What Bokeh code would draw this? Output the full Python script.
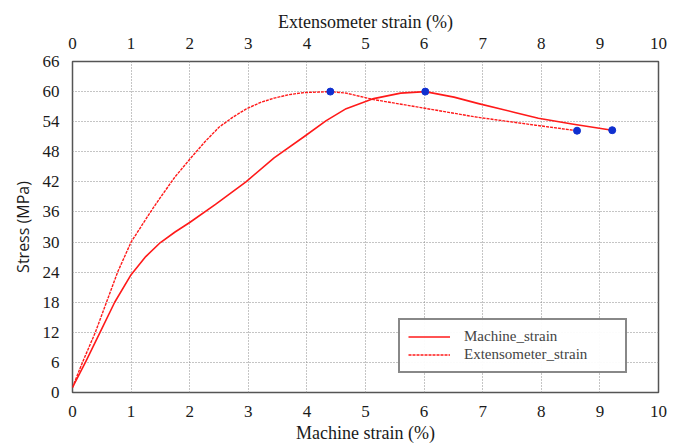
from bokeh.plotting import figure
from bokeh.models import Range1d, LinearAxis, SingleIntervalTicker, Legend, LegendItem
from bokeh.embed import file_html
from bokeh.resources import INLINE

# ---- data ----
machine_strain = [0, 0.11, 0.22, 0.47, 0.72, 1.0, 1.25, 1.5, 1.75, 2.0, 2.44, 2.96, 3.44,
                  3.95, 4.33, 4.67, 5.14, 5.6, 6.02, 6.51, 6.93, 7.53, 7.95, 8.55, 9.21]
machine_stress = [1.0, 3.5, 6.0, 12.0, 18.0, 23.5, 27.1, 29.9, 32.0, 33.9, 37.5, 42.0, 46.8,
                  51.0, 54.2, 56.6, 58.6, 59.7, 60.0, 58.9, 57.6, 55.9, 54.7, 53.5, 52.3]

ext_strain = [0, 0.05, 0.17, 0.39, 0.58, 0.77, 1.0, 1.32, 1.5, 1.75, 2.0, 2.26, 2.5, 2.75,
              2.96, 3.2, 3.44, 3.7, 3.95, 4.4, 4.67, 5.14, 5.9, 6.9, 7.9, 8.61]
ext_stress = [1.0, 2.5, 6.0, 12.0, 18.0, 24.0, 30.0, 35.8, 38.9, 43.0, 46.5, 50.0, 52.9, 55.0,
              56.5, 57.8, 58.7, 59.4, 59.8, 60.0, 59.7, 58.4, 56.9, 54.9, 53.3, 52.2]

machine_marks_x = [6.02, 9.21]
machine_marks_y = [60.0, 52.3]
ext_marks_x = [4.4, 8.61]
ext_marks_y = [60.0, 52.2]

x_ticks_interval = 1
y_ticks_interval = 6

SERIF = "'Liberation Serif', 'DejaVu Serif', serif"

p = figure(width=686, height=448, x_range=Range1d(0, 10), y_range=Range1d(0, 66),
           output_backend="svg", toolbar_location=None,
           min_border_left=72, min_border_right=28, min_border_top=61, min_border_bottom=56,
           x_axis_label="Machine strain (%)", y_axis_label="Stress (MPa)")
p.extra_x_ranges = {"ext": Range1d(0, 10)}
top = LinearAxis(x_range_name="ext", axis_label="Extensometer strain (%)")
p.add_layout(top, "above")

for ax in p.below + p.above:
    ax.ticker = SingleIntervalTicker(interval=x_ticks_interval, num_minor_ticks=0)
for ax in p.left:
    ax.ticker = SingleIntervalTicker(interval=y_ticks_interval, num_minor_ticks=0)

for ax in p.axis:
    ax.axis_line_color = None
    ax.major_tick_line_color = None
    ax.minor_tick_line_color = None
    ax.major_label_text_font = SERIF
    ax.major_label_text_font_size = "17px"
    ax.major_label_text_color = "#1a1a1a"
    ax.major_label_standoff = 7
    ax.axis_label_text_font = SERIF
    ax.axis_label_text_font_size = "18px"
    ax.axis_label_text_font_style = "normal"
    ax.axis_label_text_color = "#1a1a1a"
    ax.axis_label_standoff = 3
p.yaxis[0].axis_label_text_font = "Open Sans"
p.yaxis[0].axis_label_text_font_size = "16px"
p.yaxis[0].axis_label_standoff = 6

for g in p.grid:
    g.ticker = SingleIntervalTicker(interval=(x_ticks_interval if g.dimension == 0 else y_ticks_interval),
                                    num_minor_ticks=0)
p.grid.grid_line_color = "#8a8a8a"
p.grid.grid_line_dash = "1 2"
p.grid.grid_line_width = 1
p.outline_line_color = "#555555"
p.outline_line_width = 1.5

r1 = p.line(machine_strain, machine_stress, line_color="#ff1a1a", line_width=1.6,
            line_join="round")
r2 = p.line(ext_strain, ext_stress, line_color="#ff1a1a", line_width=1.4,
            line_dash="3 1", line_join="round", x_range_name="ext")
p.scatter(machine_marks_x, machine_marks_y, size=7, color="#1030d0")
p.scatter(ext_marks_x, ext_marks_y, size=7, color="#1030d0", x_range_name="ext")

legend = Legend(items=[LegendItem(label="Machine_strain", renderers=[r1]),
                       LegendItem(label="Extensometer_strain", renderers=[r2])],
                location=(326, 19))
legend.border_line_color = "#111111"
legend.border_line_width = 2
legend.label_text_font = SERIF
legend.label_text_font_size = "15px"
legend.glyph_width = 42
legend.label_standoff = 14
legend.label_width = 153
legend.spacing = 1
legend.padding = 8
legend.margin = 0
legend.label_height = 17
legend.glyph_height = 17
p.add_layout(legend, "center")

open("out.html", "w").write(file_html(p, INLINE))
